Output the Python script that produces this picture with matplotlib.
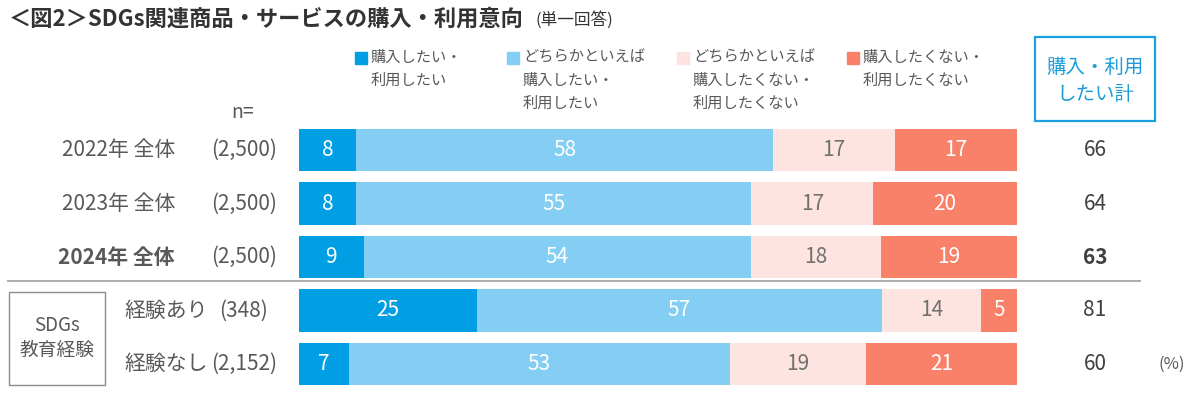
import matplotlib
matplotlib.use("Agg")
import matplotlib.pyplot as plt
import numpy as np
from matplotlib.patches import Rectangle
from matplotlib.lines import Line2D
from matplotlib.transforms import blended_transform_factory

plt.rcParams['font.family'] = ['Noto Sans CJK JP', 'DejaVu Sans']

# ---- data ----
categories = ["2022年 全体", "2023年 全体", "2024年 全体", "経験あり", "経験なし"]
n_labels = ["(2,500)", "(2,500)", "(2,500)", "(348)", "(2,152)"]
series_names = ["購入したい・\n利用したい",
                "どちらかといえば\n購入したい・\n利用したい",
                "どちらかといえば\n購入したくない・\n利用したくない",
                "購入したくない・\n利用したくない"]
want = [8, 8, 9, 25, 7]
somewhat_want = [58, 55, 54, 57, 53]
somewhat_not = [17, 17, 18, 14, 19]
not_want = [17, 20, 19, 5, 21]
totals = [66, 64, 63, 81, 60]

colors = ["#009FE3", "#84CEF3", "#FDE4E0", "#F98069"]
label_colors = ["white", "white", "#707070", "white"]
TXT = "#595959"

W, H = 1200, 398
fig = plt.figure(figsize=(W / 100, H / 100), dpi=100)

def fx(x):
    return x / W

def fy(y):
    return 1 - y / H

# bar axes
row_c = [150, 204, 257, 311, 364]
step = (row_c[-1] - row_c[0]) / 4
top = row_c[0] - step / 2
bot = row_c[-1] + step / 2
ax = fig.add_axes([fx(299), fy(bot), fx(1017) - fx(299), (bot - top) / H])
ax.set_xlim(0, 100)
ax.set_ylim(4.5, -0.5)
ax.axis("off")

data = np.array([want, somewhat_want, somewhat_not, not_want], dtype=float)
norm = data / data.sum(axis=0) * 100
y = np.arange(len(categories))
left = np.zeros(len(categories))
for i in range(4):
    ax.barh(y, norm[i], left=left, height=0.79, color=colors[i], edgecolor="none")
    for j in range(len(categories)):
        ax.text(left[j] + norm[i][j] / 2, y[j], f"{int(data[i][j])}",
                ha="center", va="center", fontsize=15, color=label_colors[i])
    left += norm[i]

# title
title = fig.text(fx(9), fy(19), "＜図2＞SDGs関連商品・サービスの購入・利用意向",
                 fontsize=16, fontweight="bold", color="#333333", ha="left", va="center")
fig.canvas.draw()
tb = title.get_window_extent(renderer=fig.canvas.get_renderer())
fig.text(fx(tb.x1 + 12), fy(20), "(単一回答)", fontsize=12, color="#333333",
         ha="left", va="center")

# legend
leg_x = [361, 513, 683, 853]
for i, name in enumerate(series_names):
    fig.patches.append(Rectangle((fx(leg_x[i] - 6), fy(64)), 12 / W, 12 / H,
                                 transform=fig.transFigure, color=colors[i]))
    fig.text(fx(leg_x[i] + 10), fy(49), name, fontsize=11, color=TXT,
             ha="left", va="top", linespacing=1.45)

# n=
fig.text(fx(243), fy(112), "n=", fontsize=14, color=TXT, ha="center", va="center")

# row labels
tr = blended_transform_factory(fig.transFigure, ax.transData)
for j in range(3):
    fw = "bold" if j == 2 else "normal"
    fig.text(fx(175), j, categories[j], transform=tr, fontsize=15, color=TXT,
             ha="right", va="center", fontweight=fw)
    fig.text(fx(277), j, n_labels[j], transform=tr, fontsize=15, color=TXT,
             ha="right", va="center")
for j in range(3, 5):
    fig.text(fx(124), j, categories[j], transform=tr, fontsize=15, color=TXT,
             ha="left", va="center")
fig.text(fx(268), 3, n_labels[3], transform=tr, fontsize=15, color=TXT,
         ha="right", va="center")
fig.text(fx(277), 4, n_labels[4], transform=tr, fontsize=15, color=TXT,
         ha="right", va="center")

# totals
for j in range(5):
    fw = "bold" if j == 2 else "normal"
    fig.text(fx(1095), j, f"{totals[j]}", transform=tr, fontsize=15, color="#404040",
             ha="center", va="center", fontweight=fw)
fig.text(fx(1172), 4, "(%)", transform=tr, fontsize=12, color=TXT,
         ha="center", va="center")

# total header box
fig.patches.append(Rectangle((fx(1035), fy(121)), 120 / W, 84 / H,
                             transform=fig.transFigure, fill=False,
                             edgecolor="#1BA1E2", linewidth=1.6))
fig.text(fx(1095), fy(81), "購入・利用\nしたい計", fontsize=14, color="#1A9CD8",
         ha="center", va="center", linespacing=1.4)

# separator
fig.lines.append(Line2D([fx(8), fx(1140)], [2.45, 2.45], transform=tr,
                        color="#A6A6A6", linewidth=1.3))

# SDGs box
fig.patches.append(Rectangle((fx(9), fy(385)), 96 / W, 93 / H,
                             transform=fig.transFigure, fill=False,
                             edgecolor="#8C8C8C", linewidth=1.0))
fig.text(fx(57), fy(338), "SDGs\n教育経験", fontsize=13.5, color=TXT,
         ha="center", va="center", linespacing=1.2)

fig.savefig("out.png", dpi=100)
